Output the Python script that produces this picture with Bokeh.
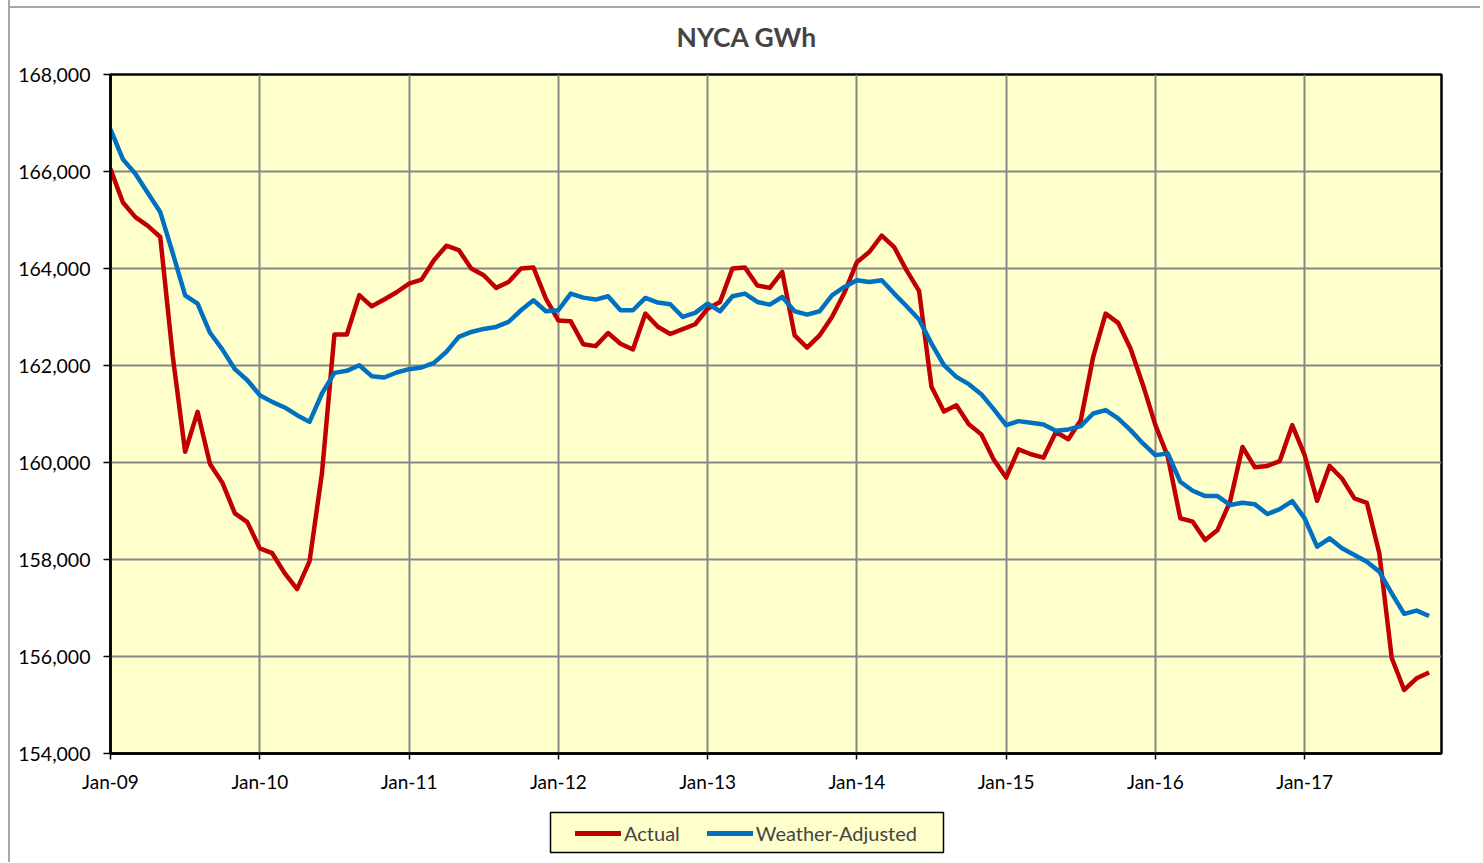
from bokeh.plotting import figure
from bokeh.layouts import column
from bokeh.models import Range1d, FixedTicker, NumeralTickFormatter, Legend, LegendItem, BoxAnnotation
from bokeh.embed import file_html
from bokeh.resources import INLINE

months = list(range(107))  # Jan-09 .. Nov-17

actual = [
    166050, 165360, 165060, 164880, 164650, 162200, 160220, 161045, 159970, 159580, 158950, 158770,
    158230, 158130, 157720, 157390, 157960, 159780, 162640, 162640, 163450, 163220, 163360, 163510,
    163690, 163770, 164170, 164470, 164380, 164000, 163860, 163600, 163720, 164000, 164020, 163380,
    162930, 162910, 162440, 162400, 162670, 162450, 162330, 163070, 162800, 162650, 162750, 162850,
    163170, 163310, 164000, 164020, 163650, 163600, 163930, 162620, 162370, 162620, 163000, 163500,
    164130, 164340, 164680, 164440, 163960, 163540, 161560, 161050, 161180, 160790, 160580, 160060,
    159690, 160270, 160170, 160100, 160630, 160480, 160870, 162180, 163070, 162880, 162350, 161600,
    160770, 160120, 158850, 158780, 158400, 158610, 159190, 160320, 159900, 159930, 160030, 160770,
    160150, 159210, 159930, 159670, 159260, 159170, 158130, 155970, 155310, 155550, 155670,
]

weather_adjusted = [
    166870, 166250, 165955, 165556, 165164, 164320, 163448, 163276, 162675, 162328, 161924, 161697,
    161388, 161250, 161135, 160976, 160838, 161423, 161848, 161890, 162006, 161780, 161753, 161856,
    161924, 161959, 162054, 162280, 162589, 162692, 162754, 162795, 162898, 163139, 163345, 163118,
    163139, 163483, 163400, 163359, 163427, 163139, 163139, 163393, 163298, 163263, 163001, 163084,
    163276, 163118, 163427, 163483, 163310, 163256, 163413, 163118, 163049, 163118, 163448, 163620,
    163757, 163722, 163757, 163483, 163221, 162948, 162453, 162006, 161765, 161615, 161409, 161100,
    160770, 160853, 160818, 160785, 160653, 160682, 160750, 161011, 161079, 160908, 160667, 160393,
    160152, 160185, 159603, 159418, 159308, 159308, 159123, 159170, 159137, 158937, 159040, 159205,
    158849, 158264, 158437, 158231, 158094, 157955, 157750, 157304, 156878, 156946, 156836,
]

series_names = ["Actual", "Weather-Adjusted"]
series_values = [actual, weather_adjusted]
series_colors = ["#C00000", "#0070C0"]

tick_positions = [0, 12, 24, 36, 48, 60, 72, 84, 96]
tick_labels = ["Jan-09", "Jan-10", "Jan-11", "Jan-12", "Jan-13", "Jan-14", "Jan-15", "Jan-16", "Jan-17"]
y_ticks = [154000, 156000, 158000, 160000, 162000, 164000, 166000, 168000]

FONT = "Lato"
GRAY = "#a6a6a6"
BORDER = "2px solid " + GRAY

# ---------------- main chart ----------------
p = figure(width=1472, height=795, x_range=Range1d(0, 107), y_range=Range1d(154000, 168000),
           output_backend="svg", toolbar_location=None,
           min_border_left=100, min_border_right=41, min_border_top=74, min_border_bottom=42)
p.styles = {"border-left": BORDER,
            "background": "linear-gradient(%s, %s) 0px 6px / 100%% 2px no-repeat" % (GRAY, GRAY)}

p.background_fill_color = "#FFFFCC"
p.border_fill_color = "white"
p.border_fill_alpha = 0
p.outline_line_color = "black"
p.outline_line_width = 2.5

p.title.text = "NYCA GWh"
p.title.align = "left"
p.title.offset = 566
p.title.vertical_align = "top"
p.title.text_font = FONT
p.title.text_font_style = "bold"
p.title.text_font_size = "26.5px"
p.title.standoff = 40

p.xaxis.ticker = FixedTicker(ticks=tick_positions)
p.xaxis.major_label_overrides = {t: l for t, l in zip(tick_positions, tick_labels)}
p.yaxis.ticker = FixedTicker(ticks=y_ticks)
p.yaxis.formatter = NumeralTickFormatter(format="0,0")

for ax in (p.xaxis, p.yaxis):
    ax.axis_line_color = "black"
    ax.axis_line_width = 2.5
    ax.major_tick_line_color = "black"
    ax.major_tick_line_width = 1.5
    ax.major_tick_in = 0
    ax.minor_tick_line_color = None
    ax.major_label_text_font = FONT
    ax.major_label_text_color = "black"
p.xaxis.major_label_text_font_size = "19px"
p.yaxis.major_label_text_font_size = "19.5px"
p.xaxis.major_tick_out = 6
p.yaxis.major_tick_out = 7
p.xaxis.major_label_standoff = 10
p.yaxis.major_label_standoff = 13

p.xgrid.ticker = FixedTicker(ticks=tick_positions)
p.ygrid.ticker = FixedTicker(ticks=y_ticks)
for g in (p.xgrid, p.ygrid):
    g.grid_line_color = "#878787"
    g.grid_line_width = 2

for vals, col in zip(series_values, series_colors):
    p.line(months, vals, line_color=col, line_width=4.5, line_join="round")

# ---------------- legend strip ----------------
lf = figure(width=1472, height=67, x_range=Range1d(0, 1), y_range=Range1d(0, 1),
            x_axis_type=None, y_axis_type=None, output_backend="svg", toolbar_location=None,
            min_border=0)
lf.styles = {"border-left": BORDER}
lf.outline_line_color = None
lf.background_fill_color = "white"
lf.border_fill_color = "white"
lf.xgrid.visible = False
lf.ygrid.visible = False

# legend frame box (screen units, relative to this strip's frame)
legend_box = BoxAnnotation(left=440, right=833, bottom=10, top=50,
                           left_units="screen", right_units="screen",
                           bottom_units="screen", top_units="screen",
                           fill_color="#FFFFCC", fill_alpha=1,
                           line_color="black", line_width=1.5, line_alpha=1,
                           level="underlay")
lf.add_layout(legend_box)

items = []
for name, vals, col in zip(series_names, series_values, series_colors):
    # same series, far outside this strip's ranges: only its legend glyph shows
    r = lf.line(months, vals, line_color=col, line_width=5, line_cap="round")
    items.append(LegendItem(label=name, renderers=[r]))

legend = Legend(items=items, orientation="horizontal", location=(465, 17))
legend.glyph_width = 46
legend.glyph_height = 20
legend.label_standoff = 3
legend.spacing = 27
legend.padding = 9
legend.margin = 0
legend.label_text_font = FONT
legend.label_text_font_size = "20px"
legend.border_line_color = None
legend.background_fill_alpha = 0
lf.add_layout(legend, "center")

layout = column(p, lf, spacing=0)
layout.styles = {"margin-left": "8px"}

open("out.html", "w").write(file_html(layout, INLINE))
